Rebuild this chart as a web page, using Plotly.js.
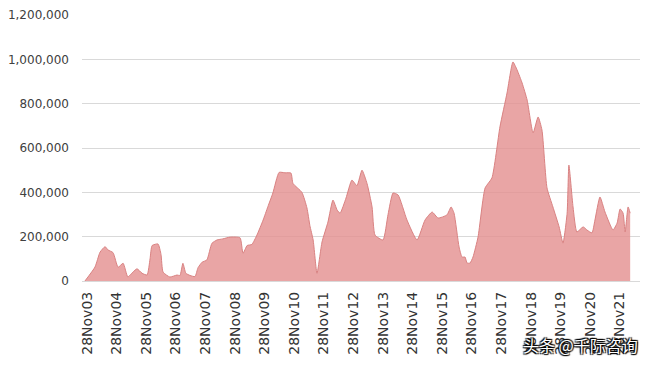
<!DOCTYPE html>
<html>
<head>
<meta charset="utf-8">
<script src="https://cdn.plot.ly/plotly-3.0.1.min.js"></script>
<style>html,body{margin:0;padding:0;background:#fff;}#chart{width:650px;height:366px;}</style>
</head>
<body>
<div id="chart"></div>
<script>
// time in decimal years
var years = [2003.84,2004.18,2004.35,2004.52,2004.62,2004.79,2004.96,2005.13,2005.29,2005.46,2005.60,2005.77,2005.94,2006.04,2006.11,2006.31,2006.41,2006.48,2006.71,2006.95,2007.05,2007.15,2007.25,2007.39,2007.56,2007.66,2007.80,2007.96,2008.13,2008.30,2008.50,2008.74,2009.08,2009.18,2009.32,2009.48,2009.65,2009.86,2010.02,2010.19,2010.40,2010.60,2010.80,2010.87,2011.17,2011.34,2011.44,2011.55,2011.68,2011.85,2012.05,2012.22,2012.36,2012.46,2012.66,2012.86,2013.03,2013.20,2013.37,2013.54,2013.64,2013.91,2014.08,2014.25,2014.42,2014.72,2015.06,2015.33,2015.57,2015.77,2016.07,2016.21,2016.31,2016.48,2016.58,2016.68,2016.75,2016.85,2016.95,2017.12,2017.36,2017.59,2017.86,2018.10,2018.30,2018.44,2018.61,2018.78,2018.98,2019.15,2019.28,2019.45,2019.65,2019.86,2019.99,2020.13,2020.19,2020.33,2020.46,2020.67,2020.80,2020.97,2021.07,2021.24,2021.41,2021.68,2021.82,2021.92,2022.02,2022.09,2022.19,2022.26];
var values = [0,63000,130000,155000,140000,128000,62000,80000,18000,40000,55000,35000,27000,100000,160000,167000,120000,40000,18000,27000,25000,80000,35000,25000,20000,60000,85000,95000,170000,185000,190000,198000,195000,125000,160000,165000,207000,275000,335000,397000,490000,488000,487000,440000,400000,330000,250000,185000,35000,176000,266000,365000,320000,306000,374000,455000,430000,500000,440000,334000,207000,185000,300000,397000,388000,275000,185000,275000,311000,284000,298000,334000,306000,153000,108000,108000,81000,81000,108000,198000,420000,465000,695000,848000,988000,952000,893000,816000,668000,740000,681000,420000,334000,244000,171000,306000,523000,334000,221000,244000,230000,217000,275000,379000,311000,230000,262000,325000,306000,221000,334000,306000];
var tickPos = [2003.91,2004.91,2005.91,2006.91,2007.91,2008.91,2009.91,2010.91,2011.91,2012.91,2013.91,2014.91,2015.91,2016.91,2017.91,2018.91,2019.91,2020.91,2021.91];
var tickLabels = ['28Nov03','28Nov04','28Nov05','28Nov06','28Nov07','28Nov08','28Nov09','28Nov10','28Nov11','28Nov12','28Nov13','28Nov14','28Nov15','28Nov16','28Nov17','28Nov18','28Nov19','28Nov20','28Nov21'];
var yTicks = [0,200000,400000,600000,800000,1000000,1200000];
var yLabels = ['0','200,000','400,000','600,000','800,000','1,000,000','1,200,000'];

var trace = {
  x: years, y: values, type: 'scatter', mode: 'lines',
  fill: 'tozeroy', fillcolor: 'rgba(228,142,142,0.80)',
  line: {color: '#d98282', width: 1, shape: 'spline', smoothing: 0.5},
  hoverinfo: 'skip'
};
var layout = {
  width: 650, height: 366,
  margin: {l: 82, r: 10, t: 15, b: 85},
  paper_bgcolor: '#ffffff', plot_bgcolor: '#ffffff',
  showlegend: false,
  xaxis: {
    range: [2003.741, 2022.592], tickmode: 'array', tickvals: tickPos, ticktext: tickLabels,
    tickangle: -90, showgrid: false, zeroline: false, showline: false, ticks: '',
    ticklabelstandoff: 7,
    tickfont: {family: 'DejaVu Sans', size: 14, color: '#333333'}
  },
  yaxis: {
    range: [0, 1200000], tickmode: 'array', tickvals: yTicks, ticktext: yLabels,
    showgrid: true, gridcolor: '#d9d9d9', gridwidth: 1, zeroline: true, zerolinecolor: '#d9d9d9',
    showline: false, ticks: '', ticklabelstandoff: 12,
    tickfont: {family: 'DejaVu Sans', size: 12, color: '#404040'}
  },
  annotations: [{
    xref: 'paper', yref: 'paper', x: 1.0, y: -0.24, xanchor: 'right', yanchor: 'middle',
    text: '头条 @千际咨询', showarrow: false,
    font: {family: 'Noto Sans CJK SC', size: 16, color: '#ffffff', shadow: '1px 1px 1px #000, -1px -1px 1px #000, 1px -1px 1px #000, -1px 1px 1px #000'}
  }]
};
Plotly.newPlot('chart', [trace], layout, {displayModeBar: false, staticPlot: true});
</script>
</body>
</html>
